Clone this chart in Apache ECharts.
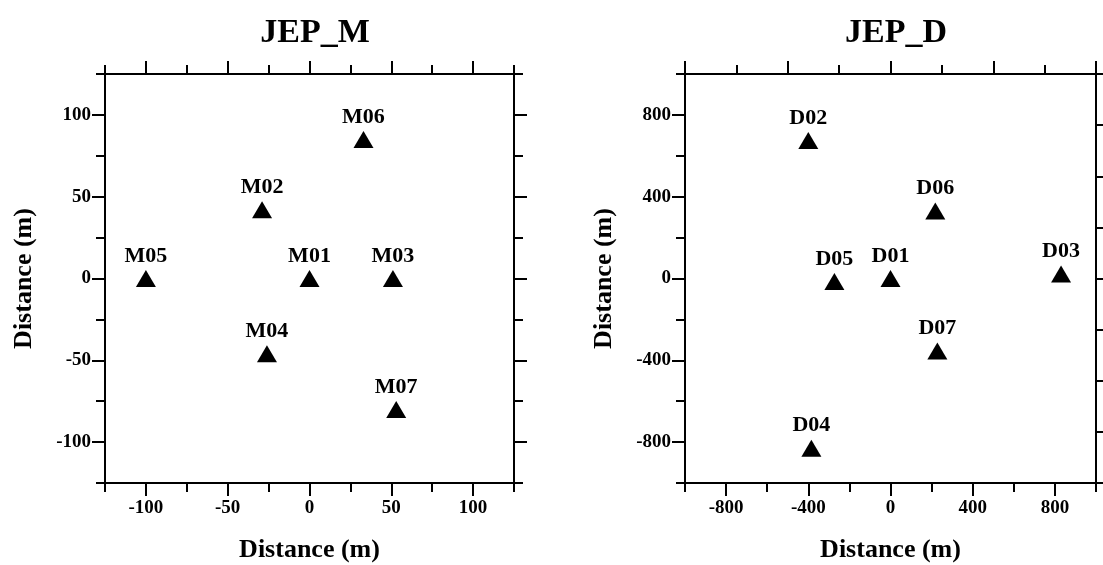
<!DOCTYPE html>
<html>
<head>
<meta charset="utf-8">
<script src="https://cdn.jsdelivr.net/npm/echarts@6/dist/echarts.min.js"></script>
<style>html,body{margin:0;padding:0;background:#fff}#c{width:1103px;height:565px}</style>
</head>
<body>
<div id="c"></div>
<script>
// ---- data ----
const mStations = ['M01', 'M02', 'M03', 'M04', 'M05', 'M06', 'M07'];
const mX = [0, -29, 51, -26, -100, 33, 53];
const mY = [0, 42, 0, -46, 0, 85, -80];

const dStations = ['D01', 'D02', 'D03', 'D04', 'D05', 'D06', 'D07'];
const dX = [0, -400, 830, -385, -273, 218, 228];
const dY = [0, 675, 22, -830, -15, 330, -355];

const mTickLabels = [-100, -50, 0, 50, 100];
const dTickLabels = [-800, -400, 0, 400, 800];
const dFrameMajor = [-1000, -500, 0, 500, 1000];

const titles = ['JEP_M', 'JEP_D'];
const axisName = 'Distance (m)';

// ---- styling helpers ----
const FONT = 'Liberation Serif';
const lineSt = { color: '#000', width: 2 };

function axisPair(gridIndex, position, min, max, step, majors, labels, name) {
  const isX = position === 'top' || position === 'bottom';
  const main = {
    type: 'value', gridIndex, position, min, max, interval: step,
    axisLine: { show: true, onZero: false, lineStyle: lineSt },
    axisTick: { show: true, inside: false, length: 9, lineStyle: lineSt },
    splitLine: { show: false },
    axisLabel: labels ? {
      show: true, customValues: majors, color: '#000', fontFamily: FONT,
      fontWeight: 'bold', fontSize: 19, margin: isX ? 16 : 14
    } : { show: false }
  };
  if (name) {
    main.name = name;
    main.nameLocation = 'middle';
    main.nameGap = isX ? 54 : 68;
    main.nameTextStyle = { color: '#000', fontFamily: FONT, fontWeight: 'bold', fontSize: 26 };
  }
  const overlay = {
    type: 'value', gridIndex, position, min, max, interval: step,
    axisLine: { show: false, onZero: false },
    axisTick: { show: true, inside: false, length: 13, customValues: majors, lineStyle: lineSt },
    splitLine: { show: false },
    axisLabel: { show: false }
  };
  return [main, overlay];
}

const xAxes = [];
const yAxes = [];
// grid 0 (JEP_M)
xAxes.push(...axisPair(0, 'bottom', -125, 125, 25, mTickLabels, true, axisName)); // 0,1
xAxes.push(...axisPair(0, 'top', -125, 125, 25, mTickLabels, false));            // 2,3
yAxes.push(...axisPair(0, 'left', -125, 125, 25, mTickLabels, true, axisName));   // 0,1
yAxes.push(...axisPair(0, 'right', -125, 125, 25, mTickLabels, false));           // 2,3
// grid 1 (JEP_D)
xAxes.push(...axisPair(1, 'bottom', -1000, 1000, 200, dTickLabels, true, axisName)); // 4,5
xAxes.push(...axisPair(1, 'top', -1000, 1000, 250, dFrameMajor, false));            // 6,7
yAxes.push(...axisPair(1, 'left', -1000, 1000, 200, dTickLabels, true, axisName));   // 4,5
yAxes.push(...axisPair(1, 'right', -1000, 1000, 250, dFrameMajor, false));           // 6,7

function pts(names, xs, ys) {
  return names.map((n, i) => ({ name: n, value: [xs[i], ys[i]] }));
}

const seriesStyle = {
  type: 'scatter',
  symbol: 'triangle',
  symbolSize: [20, 17],
  itemStyle: { color: '#000', opacity: 1 },
  label: {
    show: true, position: 'top', distance: 3,
    formatter: p => p.name,
    color: '#000', opacity: 1, fontFamily: FONT, fontWeight: 'bold', fontSize: 22
  },
  emphasis: { disabled: true },
  clip: false
};

const option = {
  animation: false,
  backgroundColor: '#fff',
  title: [
    { text: titles[0], left: 310, top: 11, textAlign: 'center',
      textStyle: { color: '#000', fontFamily: FONT, fontWeight: 'bold', fontSize: 34 } },
    { text: titles[1], left: 891, top: 11, textAlign: 'center',
      textStyle: { color: '#000', fontFamily: FONT, fontWeight: 'bold', fontSize: 34 } }
  ],
  grid: [
    { left: 105, top: 74, width: 409, height: 409, containLabel: false, outerBoundsMode: 'none' },
    { left: 685, top: 74, width: 411, height: 409, containLabel: false, outerBoundsMode: 'none' }
  ],
  xAxis: xAxes,
  yAxis: yAxes,
  series: [
    Object.assign({}, seriesStyle, { xAxisIndex: 0, yAxisIndex: 0, data: pts(mStations, mX, mY) }),
    Object.assign({}, seriesStyle, { xAxisIndex: 4, yAxisIndex: 4, data: pts(dStations, dX, dY) })
  ]
};

const chart = echarts.init(document.getElementById('c'), null, { renderer: 'canvas' });
chart.setOption(option);
</script>
</body>
</html>
